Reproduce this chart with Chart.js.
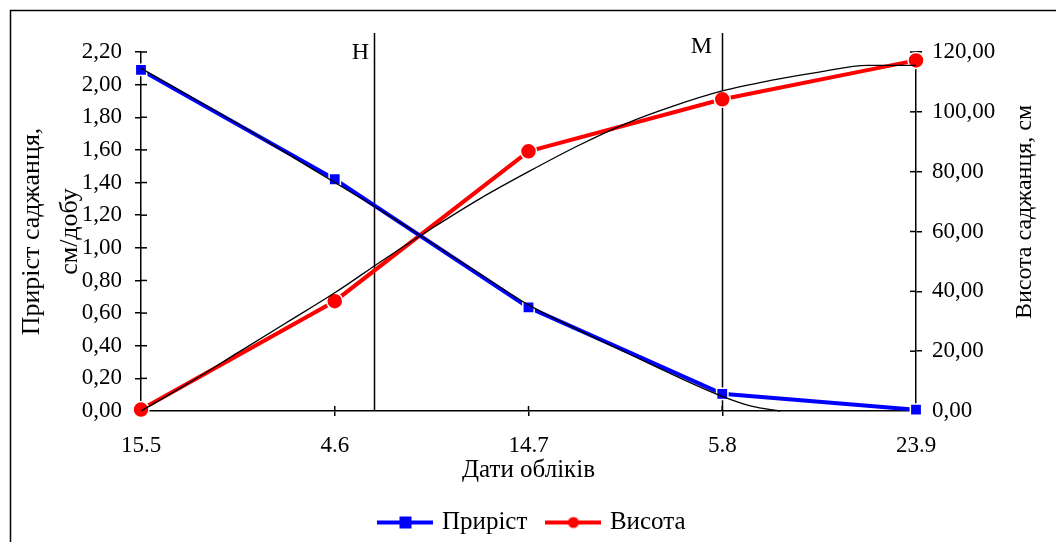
<!DOCTYPE html>
<html><head><meta charset="utf-8">
<script src="https://cdn.jsdelivr.net/npm/chart.js@4.4.1/dist/chart.umd.min.js"></script>
<style>html,body{margin:0;padding:0;background:#fff;}#wrap{width:1056px;height:542px;}</style>
</head><body><div id="wrap"><canvas id="c" width="1056" height="542"></canvas></div>
<script>
// ---- data ----
const categories = ['15.5', '4.6', '14.7', '5.8', '23.9'];
const growth = [2.09, 1.42, 0.635, 0.105, 0.008];
const heightCm = [0.5, 36.7, 86.8, 104.2, 117.2];
const growthTrendX = [0, 0.25, 0.5, 0.75, 1, 1.25, 1.5, 1.75, 2, 2.25, 2.5, 2.75, 3, 3.15, 3.3];
const growthTrendY = [2.10, 1.93, 1.76, 1.58, 1.40, 1.22, 1.03, 0.84, 0.65, 0.50, 0.36, 0.22, 0.09, 0.03, 0.0];
const heightTrendX = [0, 0.25, 0.5, 0.75, 1, 1.25, 1.5, 1.75, 2, 2.25, 2.5, 2.75, 3, 3.25, 3.5, 3.75, 4];
const heightTrendY = [0, 9.5, 19.5, 29.5, 39.5, 50.5, 61, 71, 80, 88.5, 96, 102, 107, 110.5, 113.3, 115.5, 115.5];
const leftAxis = {min: 0, max: 2.2, step: 0.2};
const rightAxis = {min: 0, max: 120, step: 20};
const phaseX = [1.2, 3];
const phaseLabels = ['Н', 'М'];
const seriesNames = ['Приріст', 'Висота'];
const leftTitle = ['Приріст саджанця,', 'см/добу'];
const rightTitle = 'Висота саджанця, см';
const xTitle = 'Дати обліків';

const F = 'Liberation Serif';
const BLUE = '#0000ff', RED = '#ff0000';

function makeIcon(color, shape) {
  const cv = document.createElement('canvas');
  cv.width = 56; cv.height = 20;
  const c = cv.getContext('2d');
  c.strokeStyle = color; c.lineWidth = 4;
  c.beginPath(); c.moveTo(0, 10); c.lineTo(56, 10); c.stroke();
  c.fillStyle = color;
  if (shape === 'rect') { c.fillRect(22, 4, 12, 12); }
  else { c.beginPath(); c.arc(28, 10, 5.5, 0, Math.PI * 2); c.fill(); }
  return cv;
}
const icons = [makeIcon(BLUE, 'rect'), makeIcon(RED, 'circle')];

const fmt = v => Number(v).toFixed(2).replace('.', ',');

function line(c, x1, y1, x2, y2) { c.beginPath(); c.moveTo(x1, y1); c.lineTo(x2, y2); c.stroke(); }

const decor = {
  id: 'decor',
  beforeDraw(chart) {
    const c = chart.ctx;
    c.save();
    c.fillStyle = '#fff'; c.fillRect(0, 0, chart.width, chart.height);
    c.strokeStyle = '#000'; c.lineWidth = 1.5;
    c.strokeRect(10.5, 10.5, chart.width + 20, chart.height + 20);
    c.restore();
  },
  beforeDatasetsDraw(chart) {
    const c = chart.ctx, s = chart.scales;
    c.save();
    c.strokeStyle = '#000'; c.lineWidth = 1.5;
    s.y.ticks.forEach((t, i) => { const p = s.y.getPixelForTick(i); line(c, s.y.right, p, s.y.right + 6, p); });
    s.y1.ticks.forEach((t, i) => { const p = s.y1.getPixelForTick(i); line(c, s.y1.left - 6, p, s.y1.left, p); });
    s.x.ticks.forEach((t, i) => { const p = s.x.getPixelForTick(i); line(c, p, s.x.top - 5, p, s.x.top); });
    // phase lines
    const labelOff = [[-14, 53], [-21, 47]];
    phaseX.forEach((v, i) => {
      const px = Math.round(s.xt.getPixelForValue(v)) + 0.5;
      line(c, px, 33, px, chart.chartArea.bottom);
      c.fillStyle = '#000';
      c.font = '24px "' + F + '"';
      c.textAlign = 'center'; c.textBaseline = 'middle';
      c.fillText(phaseLabels[i], px + labelOff[i][0], labelOff[i][1]);
    });
    c.restore();
  },
  afterDraw(chart) {
    const c = chart.ctx;
    c.save();
    c.fillStyle = '#000';
    c.font = '24px "' + F + '"';
    c.textAlign = 'center'; c.textBaseline = 'middle';
    c.translate(1025, 212); c.rotate(-Math.PI / 2);
    c.fillText(rightTitle, 0, 0);
    c.restore();
  }
};

const tickFont = {family: F, size: 23};
const axisCommon = {
  grid: {display: true, drawOnChartArea: false, drawTicks: true, tickLength: 6, color: '#000', lineWidth: 1.5},
  border: {display: true, color: '#000', width: 1.5},
};

new Chart(document.getElementById('c'), {
  type: 'line',
  data: {
    labels: categories,
    datasets: [
      {label: seriesNames[0], data: growth, xAxisID: 'x', yAxisID: 'y', borderColor: BLUE, backgroundColor: BLUE,
       borderWidth: 4, pointStyle: 'rect', pointRadius: 8, pointBackgroundColor: BLUE, pointBorderColor: '#fff',
       pointBorderWidth: 1.5, clip: false, order: 1},
      {label: seriesNames[1], data: heightCm, xAxisID: 'x', yAxisID: 'y1', borderColor: RED, backgroundColor: RED,
       borderWidth: 4, pointStyle: 'circle', pointRadius: 8, pointBackgroundColor: RED, pointBorderColor: '#fff',
       pointBorderWidth: 1.5, clip: false, order: 1},
      {label: 'trendG', data: growthTrendX.map((x, i) => ({x, y: growthTrendY[i]})), xAxisID: 'xt', yAxisID: 'y',
       borderColor: '#000', borderWidth: 1.3, pointRadius: 0, cubicInterpolationMode: 'monotone', clip: false, order: 0},
      {label: 'trendH', data: heightTrendX.map((x, i) => ({x, y: heightTrendY[i]})), xAxisID: 'xt', yAxisID: 'y1',
       borderColor: '#000', borderWidth: 1.3, pointRadius: 0, cubicInterpolationMode: 'monotone', clip: false, order: 0},
    ]
  },
  options: {
    responsive: false, animation: false, devicePixelRatio: 1,
    layout: {padding: {left: 11, right: 0, top: 52, bottom: -3}},
    plugins: {
      tooltip: {enabled: false},
      legend: {
        position: 'bottom',
        labels: {
          usePointStyle: true, pointStyleWidth: 48, padding: 22, color: '#000',
          font: {family: F, size: 25},
          generateLabels(chart) {
            const items = Chart.defaults.plugins.legend.labels.generateLabels(chart);
            items.forEach(it => { if (it.datasetIndex < 2) it.pointStyle = icons[it.datasetIndex]; });
            return items;
          },
          filter: item => item.datasetIndex < 2
        }
      }
    },
    scales: {
      x: {
        type: 'category', offset: false, ...axisCommon,
        grid: {...axisCommon.grid, tickLength: 5},
        ticks: {font: tickFont, color: '#000', padding: 16, maxRotation: 0, autoSkip: false},
        title: {display: true, text: xTitle, color: '#000', font: {family: F, size: 25}, padding: {top: 0, bottom: 3}},
        afterFit(s) { s.height = 77; }
      },
      xt: {type: 'linear', display: false, min: 0, max: 4},
      y: {
        position: 'left', min: leftAxis.min, max: leftAxis.max, ...axisCommon,
        ticks: {stepSize: leftAxis.step, callback: fmt, font: tickFont, color: '#000', padding: 13},
        title: {display: true, text: leftTitle, color: '#000', font: {family: F, size: 26, lineHeight: 1.44}, padding: {top: 2.75, bottom: 0}},
        afterFit(s) { s.width = 130; }
      },
      y1: {
        position: 'right', min: rightAxis.min, max: rightAxis.max, ...axisCommon,
        ticks: {stepSize: rightAxis.step, callback: fmt, font: tickFont, color: '#000', padding: 10},
        afterFit(s) { s.width = 140; }
      }
    }
  },
  plugins: [decor]
});
</script></body></html>
